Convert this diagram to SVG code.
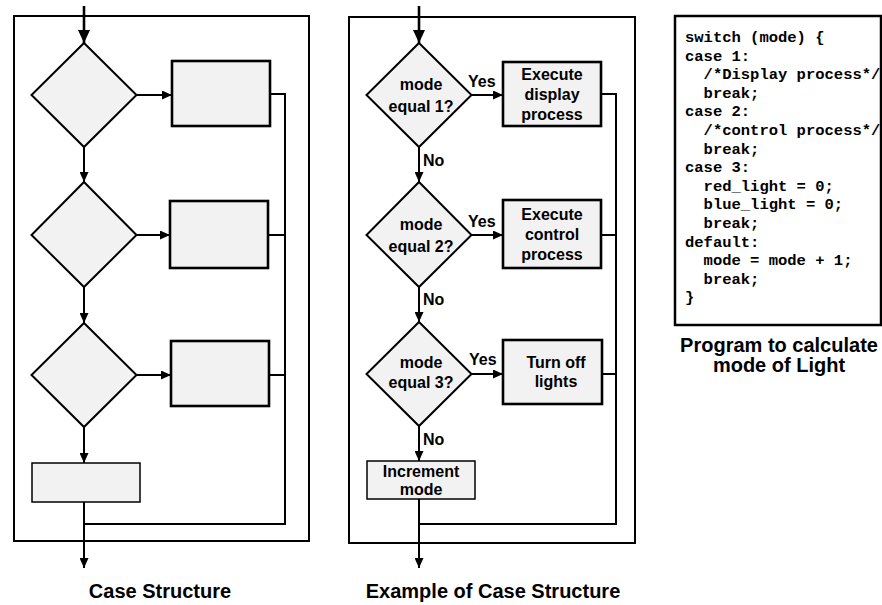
<svg xmlns="http://www.w3.org/2000/svg" width="882" height="605" viewBox="0 0 882 605">
  <style>
    .frame { fill: none; stroke: #000; stroke-width: 2; }
    .dia { fill: #f2f2f2; stroke: #000; stroke-width: 2; }
    .box { fill: #f2f2f2; stroke: #000; stroke-width: 2.6; }
    .thin { fill: #f2f2f2; stroke: #000; stroke-width: 1.5; }
    .wire { fill: none; stroke: #000; stroke-width: 2; }
    .entry { fill: none; stroke: #000; stroke-width: 2.6; }
    .lbl { font-family: "Liberation Sans", Arial, sans-serif; font-weight: bold; font-size: 16px; fill: #000; }
    .mid { text-anchor: middle; }
    .cap { font-family: "Liberation Sans", Arial, sans-serif; font-weight: bold; font-size: 20px; fill: #000; text-anchor: middle; }
    .code { font-family: "Liberation Mono", "Courier New", monospace; font-weight: bold; font-size: 15.5px; fill: #000; white-space: pre; }
  </style>
  <defs>
    <marker id="ah" markerUnits="userSpaceOnUse" markerWidth="10" markerHeight="9" refX="10" refY="4.5" orient="auto">
      <path d="M0,0 L10,4.5 L0,9 z" fill="#000"/>
    </marker>
    <marker id="ahBig" markerUnits="userSpaceOnUse" markerWidth="13" markerHeight="12" refX="13" refY="6" orient="auto">
      <path d="M0,0 L13,6 L0,12 z" fill="#000"/>
    </marker>
  </defs>

  <rect width="882" height="605" fill="#fff"/>

  <!-- outer frames -->
  <rect class="frame" x="14" y="16" width="295" height="525"/>
  <rect class="frame" x="349" y="17" width="286" height="526"/>

  <!-- generic case structure -->
  <g id="generic-d1"><polygon class="dia" points="84,43 136.5,95 84,147 31.5,95"/></g>
  <g id="generic-r1"><rect class="box" x="172" y="61" width="98" height="65"/></g>
  <g id="generic-d2"><polygon class="dia" points="84,182 136.5,235 84,287 31.5,235"/></g>
  <g id="generic-r2"><rect class="box" x="170" y="201" width="98" height="67"/></g>
  <g id="generic-d3"><polygon class="dia" points="84,323 136.5,375 84,427 31.5,375"/></g>
  <g id="generic-r3"><rect class="box" x="171" y="341" width="98" height="65"/></g>
  <g id="generic-default"><rect class="thin" x="32" y="463" width="108" height="39"/></g>

  <!-- example case structure -->
  <g id="ex-d1">
    <polygon class="dia" points="419,43 471.5,95 419,147 366.5,95"/>
    <text class="lbl mid" x="421" y="90">mode</text>
    <text class="lbl mid" x="421" y="112">equal 1?</text>
  </g>
  <g id="ex-r1">
    <rect class="box" x="503" y="62" width="98" height="64"/>
    <text class="lbl mid" x="552" y="80">Execute</text>
    <text class="lbl mid" x="552" y="100">display</text>
    <text class="lbl mid" x="552" y="120">process</text>
  </g>
  <g id="ex-d2">
    <polygon class="dia" points="419,182 471.5,235 419,287 366.5,235"/>
    <text class="lbl mid" x="421" y="230">mode</text>
    <text class="lbl mid" x="421" y="252">equal 2?</text>
  </g>
  <g id="ex-r2">
    <rect class="box" x="503" y="200" width="98" height="68"/>
    <text class="lbl mid" x="552" y="220">Execute</text>
    <text class="lbl mid" x="552" y="240">control</text>
    <text class="lbl mid" x="552" y="260">process</text>
  </g>
  <g id="ex-d3">
    <polygon class="dia" points="419,322 471.5,374 419,426 366.5,374"/>
    <text class="lbl mid" x="421" y="368">mode</text>
    <text class="lbl mid" x="421" y="388">equal 3?</text>
  </g>
  <g id="ex-r3">
    <rect class="box" x="503" y="340" width="99" height="64"/>
    <text class="lbl mid" x="556" y="368">Turn off</text>
    <text class="lbl mid" x="556" y="387">lights</text>
  </g>
  <g id="ex-default">
    <rect class="thin" x="367" y="461" width="108" height="38"/>
    <text class="lbl mid" x="421" y="477">Increment</text>
    <text class="lbl mid" x="421" y="495">mode</text>
  </g>

  <!-- connectors -->
  <g id="connectors">
    <line class="entry" x1="84" y1="6" x2="84" y2="43" marker-end="url(#ahBig)"/>
    <line class="wire" x1="136.5" y1="95" x2="172" y2="95" marker-end="url(#ah)"/>
    <line class="wire" x1="84" y1="147" x2="84" y2="182" marker-end="url(#ah)"/>
    <line class="wire" x1="136.5" y1="235" x2="170" y2="235" marker-end="url(#ah)"/>
    <line class="wire" x1="84" y1="287" x2="84" y2="323" marker-end="url(#ah)"/>
    <line class="wire" x1="136.5" y1="375" x2="171" y2="375" marker-end="url(#ah)"/>
    <line class="wire" x1="84" y1="427" x2="84" y2="463" marker-end="url(#ah)"/>
    <polyline class="wire" points="270,94 285,94 285,524 84,524"/>
    <line class="wire" x1="268" y1="235" x2="285" y2="235"/>
    <line class="wire" x1="269" y1="375" x2="285" y2="375"/>
    <line class="wire" x1="84" y1="502" x2="84" y2="568" marker-end="url(#ah)"/>

    <line class="entry" x1="419" y1="6" x2="419" y2="43" marker-end="url(#ahBig)"/>
    <line class="wire" x1="471.5" y1="95" x2="503" y2="95" marker-end="url(#ah)"/>
    <line class="wire" x1="419" y1="147" x2="419" y2="182" marker-end="url(#ah)"/>
    <line class="wire" x1="471.5" y1="235" x2="503" y2="235" marker-end="url(#ah)"/>
    <line class="wire" x1="419" y1="287" x2="419" y2="322" marker-end="url(#ah)"/>
    <line class="wire" x1="471.5" y1="374" x2="503" y2="374" marker-end="url(#ah)"/>
    <line class="wire" x1="419" y1="426" x2="419" y2="461" marker-end="url(#ah)"/>
    <polyline class="wire" points="601,94 616,94 616,524 419,524"/>
    <line class="wire" x1="601" y1="235" x2="616" y2="235"/>
    <line class="wire" x1="602" y1="374" x2="616" y2="374"/>
    <line class="wire" x1="419" y1="499" x2="419" y2="568" marker-end="url(#ah)"/>

    <text class="lbl" x="468" y="87">Yes</text>
    <text class="lbl" x="468" y="227">Yes</text>
    <text class="lbl" x="469" y="365">Yes</text>
    <text class="lbl" x="423" y="166">No</text>
    <text class="lbl" x="423" y="305">No</text>
    <text class="lbl" x="423" y="445">No</text>
  </g>

  <!-- program listing -->
  <g id="listing">
    <rect x="675" y="16" width="206" height="309" fill="#fff" stroke="#000" stroke-width="2.5"/>
    <text class="code" x="685" y="42">switch (mode) {</text>
    <text class="code" x="685" y="60.6">case 1:</text>
    <text class="code" x="685" y="79.2">  /*Display process*/</text>
    <text class="code" x="685" y="97.8">  break;</text>
    <text class="code" x="685" y="116.4">case 2:</text>
    <text class="code" x="685" y="135">  /*control process*/</text>
    <text class="code" x="685" y="153.6">  break;</text>
    <text class="code" x="685" y="172.2">case 3:</text>
    <text class="code" x="685" y="190.8">  red_light = 0;</text>
    <text class="code" x="685" y="209.4">  blue_light = 0;</text>
    <text class="code" x="685" y="228">  break;</text>
    <text class="code" x="685" y="246.6">default:</text>
    <text class="code" x="685" y="265.2">  mode = mode + 1;</text>
    <text class="code" x="685" y="283.8">  break;</text>
    <text class="code" x="685" y="302.4">}</text>
  </g>

  <!-- captions -->
  <text class="cap" x="160" y="598">Case Structure</text>
  <text class="cap" x="493" y="598">Example of Case Structure</text>
  <text class="cap" x="779" y="352">Program to calculate</text>
  <text class="cap" x="779" y="372">mode of Light</text>
</svg>
